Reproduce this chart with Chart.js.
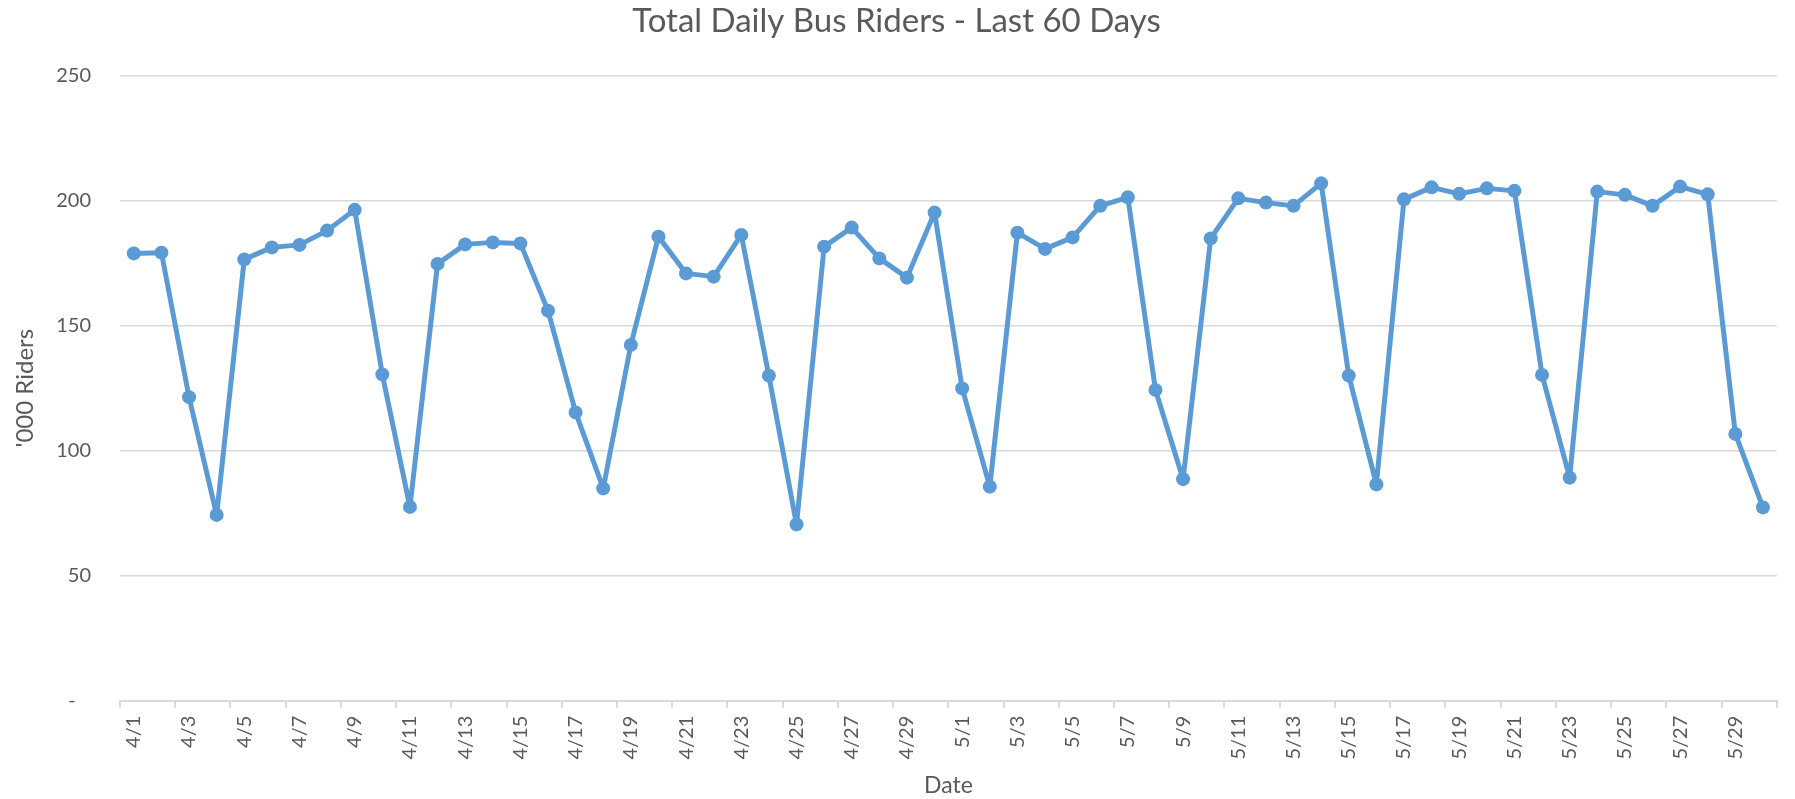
<!DOCTYPE html>
<html>
<head>
<meta charset="utf-8">
<script src="https://cdn.jsdelivr.net/npm/chart.js@4/dist/chart.umd.min.js"></script>
<style>
  html, body { margin: 0; padding: 0; background: #fff; }
</style>
</head>
<body>
<canvas id="myChart" width="1795" height="799"></canvas>
<script>
const days = [
  "4/1","4/2","4/3","4/4","4/5","4/6","4/7","4/8","4/9","4/10",
  "4/11","4/12","4/13","4/14","4/15","4/16","4/17","4/18","4/19","4/20",
  "4/21","4/22","4/23","4/24","4/25","4/26","4/27","4/28","4/29","4/30",
  "5/1","5/2","5/3","5/4","5/5","5/6","5/7","5/8","5/9","5/10",
  "5/11","5/12","5/13","5/14","5/15","5/16","5/17","5/18","5/19","5/20",
  "5/21","5/22","5/23","5/24","5/25","5/26","5/27","5/28","5/29","5/30"
];

const riders = [
  178.9, 179.2, 121.4, 74.3, 176.5, 181.3, 182.3, 188.0, 196.3, 130.5,
  77.5, 174.7, 182.5, 183.3, 182.9, 156.0, 115.3, 84.9, 142.3, 185.6,
  170.9, 169.6, 186.3, 130.0, 70.5, 181.6, 189.2, 176.9, 169.2, 195.2,
  124.9, 85.6, 187.2, 180.7, 185.3, 197.9, 201.3, 124.3, 88.6, 184.9,
  200.9, 199.2, 197.9, 206.9, 130.0, 86.5, 200.5, 205.3, 202.7, 204.9,
  203.9, 130.3, 89.2, 203.6, 202.3, 197.9, 205.6, 202.5, 106.7, 77.3
];

const yTicks = [0, 50, 100, 150, 200, 250];

const textColor = "#595959";
const gridColor = "#d9d9d9";
const lineColor = "#5b9bd5";
const fontFamily = "Lato, 'Open Sans', sans-serif";

const ctx = document.getElementById("myChart").getContext("2d");

new Chart(ctx, {
  type: "line",
  data: {
    labels: days,
    datasets: [{
      label: "Riders",
      data: riders,
      borderColor: lineColor,
      backgroundColor: lineColor,
      borderWidth: 5,
      borderJoinStyle: "round",
      borderCapStyle: "round",
      pointRadius: 7,
      pointBackgroundColor: lineColor,
      pointBorderColor: lineColor,
      pointBorderWidth: 0,
      tension: 0,
      fill: false
    }]
  },
  options: {
    responsive: false,
    animation: false,
    layout: { padding: { left: 0, right: 2, top: 0, bottom: 0 } },
    plugins: {
      legend: { display: false },
      tooltip: { enabled: false },
      title: {
        display: true,
        text: "Total Daily Bus Riders - Last 60 Days",
        color: textColor,
        font: { family: fontFamily, size: 33, weight: "normal" },
        padding: { top: 2, bottom: 34 }
      }
    },
    scales: {
      x: {
        offset: true,
        afterFit: (scale) => { scale.height = 98.3; },
        grid: {
          offset: true,
          drawOnChartArea: false,
          drawTicks: true,
          tickLength: 7,
          lineWidth: 2,
          color: (c) => (c.index === undefined || c.index % 2 === 0) ? gridColor : "rgba(0,0,0,0)"
        },
        border: { display: true, color: gridColor, width: 2 },
        ticks: {
          autoSkip: false,
          maxRotation: 90,
          minRotation: 90,
          padding: 8,
          color: textColor,
          font: { family: fontFamily, size: 20 },
          callback: function (value, index) {
            return index % 2 === 0 ? this.getLabelForValue(value) : "";
          }
        },
        title: {
          display: true,
          text: "Date",
          color: textColor,
          font: { family: fontFamily, size: 23 },
          padding: { top: 0, bottom: 0 }
        }
      },
      y: {
        min: yTicks[0],
        max: yTicks[yTicks.length - 1],
        afterFit: (scale) => { scale.width = 120; },
        afterBuildTicks: (scale) => { scale.ticks = yTicks.map(v => ({ value: v })); },
        grid: { drawTicks: false, color: gridColor, lineWidth: 1.5 },
        border: { display: false },
        ticks: {
          padding: 29,
          color: textColor,
          font: { family: fontFamily, size: 20 },
          callback: (v) => v === 0 ? "-   " : v
        },
        title: {
          display: true,
          text: "'000 Riders",
          color: textColor,
          font: { family: fontFamily, size: 24 },
          padding: { top: 11, bottom: 0 }
        }
      }
    }
  }
});
</script>
</body>
</html>
